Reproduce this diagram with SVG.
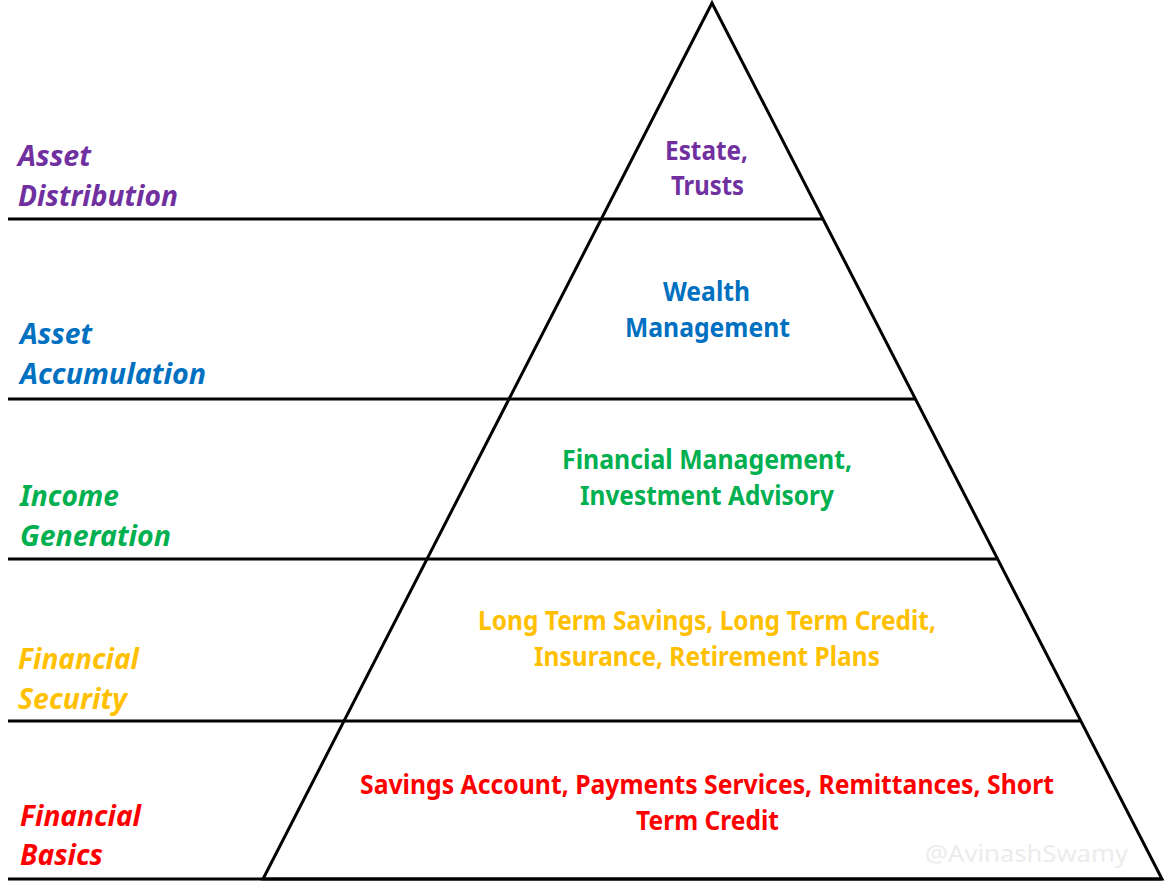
<svg xmlns="http://www.w3.org/2000/svg" width="1171" height="887" viewBox="0 0 1171 887">
<style>
.c{font-family:"Noto Sans","Open Sans","Liberation Sans",sans-serif;font-weight:bold;font-size:26px;text-anchor:start}
.l{font-family:"Noto Sans","Open Sans","Liberation Sans",sans-serif;font-weight:bold;font-style:italic;font-size:28px}
.ln{stroke:#000;stroke-width:3;fill:none}
.p{fill:#7030A0}.b{fill:#0070C0}.g{fill:#00B050}.y{fill:#FFC000}.r{fill:#FF0000}
</style>
<rect width="1171" height="887" fill="#fff"/>
<g id="connectors">
<polygon class="ln" points="712,3 263,879 1162,879" stroke-linejoin="miter"/>
<line class="ln" x1="8" y1="219" x2="823" y2="219"/>
<line class="ln" x1="8" y1="399" x2="915" y2="399"/>
<line class="ln" x1="8" y1="559" x2="997" y2="559"/>
<line class="ln" x1="8" y1="721" x2="1080" y2="721"/>
<line class="ln" x1="8" y1="879" x2="1162" y2="879"/>
</g>
<g id="asset-distribution">
<text class="l p" x="18" y="166" textLength="73" lengthAdjust="spacingAndGlyphs">Asset</text>
<text class="l p" x="18" y="206" textLength="160" lengthAdjust="spacingAndGlyphs">Distribution</text>
<text class="c p" x="665" y="160" textLength="83" lengthAdjust="spacingAndGlyphs">Estate,</text>
<text class="c p" x="671" y="195" textLength="73" lengthAdjust="spacingAndGlyphs">Trusts</text>
</g>
<g id="asset-accumulation">
<text class="l b" x="20" y="344" textLength="72" lengthAdjust="spacingAndGlyphs">Asset</text>
<text class="l b" x="20" y="384" textLength="186" lengthAdjust="spacingAndGlyphs">Accumulation</text>
<text class="c b" x="663" y="301" textLength="87" lengthAdjust="spacingAndGlyphs">Wealth</text>
<text class="c b" x="625" y="337" textLength="165" lengthAdjust="spacingAndGlyphs">Management</text>
</g>
<g id="income-generation">
<text class="l g" x="20" y="506" textLength="99" lengthAdjust="spacingAndGlyphs">Income</text>
<text class="l g" x="20" y="546" textLength="151" lengthAdjust="spacingAndGlyphs">Generation</text>
<text class="c g" x="562" y="469" textLength="290" lengthAdjust="spacingAndGlyphs">Financial Management,</text>
<text class="c g" x="580" y="505" textLength="254" lengthAdjust="spacingAndGlyphs">Investment Advisory</text>
</g>
<g id="financial-security">
<text class="l y" x="18" y="669" textLength="121" lengthAdjust="spacingAndGlyphs">Financial</text>
<text class="l y" x="18" y="709" textLength="109" lengthAdjust="spacingAndGlyphs">Security</text>
<text class="c y" x="478" y="630" textLength="458" lengthAdjust="spacingAndGlyphs">Long Term Savings, Long Term Credit,</text>
<text class="c y" x="534" y="666" textLength="346" lengthAdjust="spacingAndGlyphs">Insurance, Retirement Plans</text>
</g>
<g id="financial-basics">
<text class="l r" x="20" y="826" textLength="121" lengthAdjust="spacingAndGlyphs">Financial</text>
<text class="l r" x="20" y="865" textLength="83" lengthAdjust="spacingAndGlyphs">Basics</text>
<text class="c r" x="360" y="794" textLength="694" lengthAdjust="spacingAndGlyphs">Savings Account, Payments Services, Remittances, Short</text>
<text class="c r" x="636" y="830" textLength="143" lengthAdjust="spacingAndGlyphs">Term Credit</text>
</g>
<text x="925" y="862" font-family="'Noto Sans','Open Sans',sans-serif" font-size="24" fill="#ececec" textLength="203" lengthAdjust="spacingAndGlyphs">@AvinashSwamy</text>
</svg>
